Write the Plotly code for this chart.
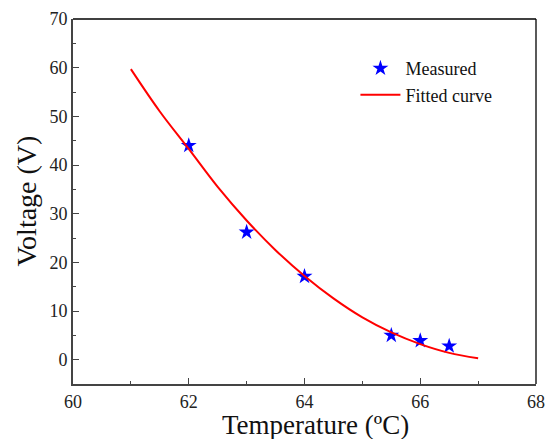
import plotly.graph_objects as go

# Measured data
temp_measured = [62, 63, 64, 65.5, 66, 66.5]
volt_measured = [44, 26.2, 17.1, 5.0, 3.9, 2.8]

# Fitted curve
temp_fit = [61, 61.5, 62, 62.5, 63, 63.5, 64, 64.5, 65, 65.5, 66, 66.5, 67]
volt_fit = [59.7, 51.0, 43.3, 35.5, 28.6, 22.5, 17.2, 12.6, 8.7, 5.6, 3.2, 1.4, 0.3]

x_ticks = [60, 62, 64, 66, 68]
y_ticks = [0, 10, 20, 30, 40, 50, 60, 70]

x_title = "Temperature (ºC)"
y_title = "Voltage (V)"

FONT = "Liberation Serif, Times New Roman, serif"

fig = go.Figure()
fig.add_trace(go.Scatter(
    x=temp_measured, y=volt_measured, mode="markers", name="Measured",
    marker=dict(symbol="star", size=12, color="#0000ff", line=dict(width=0)),
))
fig.add_trace(go.Scatter(
    x=temp_fit, y=volt_fit, mode="lines", name="Fitted curve",
    line=dict(color="#ff0000", width=2, shape="spline"),
))

axis_common = dict(
    showgrid=False, zeroline=False, showline=True, linecolor="#444444", linewidth=2,
    ticks="inside", ticklen=6, tickwidth=1, tickcolor="#444444",
    tickfont=dict(family=FONT, size=18, color="#222222"),
    automargin=False,
)
fig.update_xaxes(
    range=[60, 68], tickvals=x_ticks, ticktext=[str(v) for v in x_ticks],
    minor=dict(ticks="inside", ticklen=3, dtick=1, tickcolor="#444444"),
    ticklabelstandoff=0,
    **axis_common,
)
fig.update_yaxes(
    range=[-5, 70], tickvals=y_ticks, ticktext=[str(v) for v in y_ticks],
    minor=dict(ticks="inside", ticklen=3, dtick=5, tick0=0, tickcolor="#444444"),
    ticklabelstandoff=0,
    **axis_common,
)

# axis titles as annotations for exact placement
fig.add_annotation(text=x_title, xref="paper", yref="paper", x=0.523, y=0,
                   xanchor="center", yanchor="middle", yshift=-41, showarrow=False,
                   font=dict(family=FONT, size=27, color="#111111"))
fig.add_annotation(text=y_title, xref="paper", yref="paper", x=0, y=0.5,
                   xanchor="center", yanchor="middle", xshift=-47, textangle=-90,
                   showarrow=False, font=dict(family=FONT, size=28, color="#111111"))

# top and right frame lines
fig.add_shape(type="line", xref="paper", yref="paper", x0=0, x1=1, y0=1, y1=1,
              line=dict(color="black", width=1.3))
fig.add_shape(type="line", xref="paper", yref="paper", x0=1, x1=1, y0=0, y1=1,
              line=dict(color="black", width=1.3))

fig.update_layout(
    width=545, height=439,
    margin=dict(l=73, r=9, t=19, b=55, autoexpand=False),
    plot_bgcolor="white", paper_bgcolor="white",
    showlegend=True,
    legend=dict(x=0.61, y=0.915, xanchor="left", yanchor="top",
                bgcolor="rgba(0,0,0,0)", font=dict(family=FONT, size=18, color="#111111"),
                itemwidth=40, tracegroupgap=0),
)

fig.write_html("out.html", config={"displayModeBar": False},
               post_script="document.body.style.margin='0';document.body.style.padding='0';")
